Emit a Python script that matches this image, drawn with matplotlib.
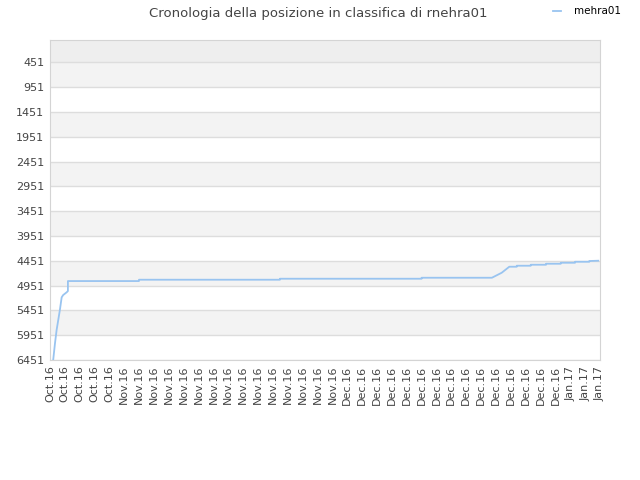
import matplotlib
matplotlib.use("Agg")
import matplotlib.pyplot as plt

##### data #####

# x tick labels (one every ~2 days)
tick_labels = (["Oct.16"] * 5 + ["Nov.16"] * 15 + ["Dec.16"] * 15 + ["Jan.17"] * 3)

# position in tick units, and ranking
pos_x = [0.22, 0.34, 0.45, 0.56, 0.67, 0.79, 0.89, 1.12, 1.21, 1.21, 5.99, 5.99,
         15.47, 15.47, 25.0, 25.0, 29.73, 30.39, 30.9, 31.4, 31.4, 32.34, 32.34,
         33.37, 33.37, 34.36, 34.36, 35.32, 35.32, 36.28, 36.28, 36.88]
rank = [6451, 6116, 5847, 5645, 5443, 5188, 5142, 5088, 5061, 4860, 4860, 4833,
        4833, 4813, 4813, 4793, 4793, 4692, 4571, 4571, 4551, 4551, 4531,
        4531, 4511, 4511, 4491, 4491, 4471, 4471, 4456, 4450]

y_ticks = [451, 951, 1451, 1951, 2451, 2951, 3451, 3951, 4451, 4951, 5451, 5951, 6451]

##### plot #####

fig = plt.figure(figsize=(6.4, 4.8), dpi=100)
ax = fig.add_axes([0.078, 0.25, 0.8595, 0.6667])

ax.set_xlim(0, len(tick_labels) - 1)
ax.set_ylim(6451, 1)

# background bands
ax.axhspan(1, 451, facecolor='#eeeeee', zorder=0)
for lo in y_ticks[:-1:2]:
    ax.axhspan(lo, lo + 500, facecolor='#f3f3f3', zorder=0)

ax.plot(pos_x, rank, color='#99c4f0', lw=1.3, label='mehra01', zorder=3)

ax.set_yticks(y_ticks)
ax.set_yticklabels([str(v) for v in y_ticks])
ax.set_xticks(range(len(tick_labels)))
ax.set_xticklabels(tick_labels, rotation=90)
ax.tick_params(length=0, labelsize=8, colors='#444444', pad=4)
ax.grid(axis='y', color='#dddddd', lw=1)
ax.set_axisbelow(True)
for s in ax.spines.values():
    s.set_color('#d4d4d4')

fig.text(0.497, 0.972, "Cronologia della posizione in classifica di rnehra01",
         ha='center', va='center', fontsize=9.5, color='#444444')
ax.legend(loc='upper right', bbox_to_anchor=(1.055, 1.135), frameon=False,
          fontsize=7.5, handlelength=0.8, handletextpad=1.2)

plt.savefig('out.png')
